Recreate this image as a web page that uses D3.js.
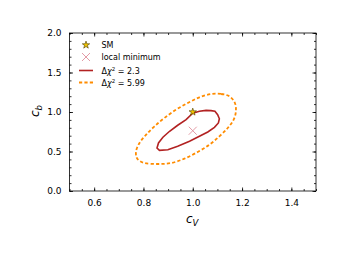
<!DOCTYPE html>
<html>
<head>
<meta charset="utf-8">
<script src="https://cdn.jsdelivr.net/npm/d3@7"></script>
<style>
  body { margin: 0; background: #fff; }
  text { font-family: "DejaVu Sans", sans-serif; }
</style>
</head>
<body>
<div id="chart"></div>
<script>
// data
const smPoint = { cV: 1.0, cb: 1.0 };
const localMin = { cV: 1.0, cb: 0.763 };

const contour23cV = [1.074, 1.090, 1.101, 1.108, 1.104, 1.088, 1.061, 1.027, 0.987, 0.939, 0.899, 0.865, 0.855, 0.861, 0.879, 0.906, 0.939, 0.973, 1.000, 1.027, 1.054];
const contour23cb = [1.017, 1.009, 0.966, 0.915, 0.861, 0.806, 0.747, 0.692, 0.629, 0.566, 0.523, 0.515, 0.544, 0.608, 0.680, 0.756, 0.832, 0.903, 0.985, 1.009, 1.021];

const contour599cV = [1.074, 1.115, 1.149, 1.171, 1.175, 1.166, 1.142, 1.108, 1.068, 1.020, 0.966, 0.912, 0.858, 0.804, 0.775, 0.770, 0.784, 0.811, 0.845, 0.885, 0.932, 0.980, 1.027];
const contour599cb = [1.228, 1.228, 1.198, 1.114, 1.008, 0.903, 0.797, 0.692, 0.587, 0.494, 0.409, 0.354, 0.342, 0.354, 0.409, 0.502, 0.608, 0.713, 0.819, 0.924, 1.029, 1.114, 1.186];

const xTicks = [0.6, 0.8, 1.0, 1.2, 1.4];
const yTicks = [0.0, 0.5, 1.0, 1.5, 2.0];

const W = 345, H = 258;
const margin = { top: 33, right: 29, bottom: 67, left: 69.5 };
const width = W - margin.left - margin.right;
const height = H - margin.top - margin.bottom;

const svg = d3.select("#chart").append("svg")
  .attr("width", W)
  .attr("height", H);

const g = svg.append("g")
  .attr("transform", `translate(${margin.left},${margin.top})`);

const x = d3.scaleLinear().domain([0.5, 1.5]).range([0, width]);
const y = d3.scaleLinear().domain([0, 2]).range([height, 0]);

// ticks, inward on all sides
const xMinor = d3.range(0.5, 1.5001, 0.05);
const yMinor = d3.range(0, 2.0001, 0.1);

function drawAxis(axis, transform, labels) {
  const a = g.append("g").attr("transform", transform).call(axis);
  a.select(".domain").remove();
  a.selectAll("line").attr("stroke", "#000").attr("stroke-width", 0.8);
  if (!labels) a.selectAll("text").remove();
  return a;
}

drawAxis(d3.axisBottom(x).tickValues(xMinor).tickSize(-2).tickFormat(""), `translate(0,${height})`, false);
drawAxis(d3.axisTop(x).tickValues(xMinor).tickSize(-2).tickFormat(""), "translate(0,0)", false);
drawAxis(d3.axisLeft(y).tickValues(yMinor).tickSize(-2).tickFormat(""), "translate(0,0)", false);
drawAxis(d3.axisRight(y).tickValues(yMinor).tickSize(-2).tickFormat(""), `translate(${width},0)`, false);

const xa = drawAxis(d3.axisBottom(x).tickValues(xTicks).tickSize(-3.5).tickPadding(9).tickFormat(d3.format(".1f")), `translate(0,${height})`, true);
drawAxis(d3.axisTop(x).tickValues(xTicks).tickSize(-3.5).tickFormat(""), "translate(0,0)", false);
const ya = drawAxis(d3.axisLeft(y).tickValues(yTicks).tickSize(-3.5).tickPadding(8).tickFormat(d3.format(".1f")), "translate(0,0)", true);
drawAxis(d3.axisRight(y).tickValues(yTicks).tickSize(-3.5).tickFormat(""), `translate(${width},0)`, false);

[xa, ya].forEach(a => a.selectAll("text")
  .attr("font-family", "DejaVu Sans")
  .attr("font-size", 9)
  .attr("fill", "#000"));

g.append("rect")
  .attr("width", width)
  .attr("height", height)
  .attr("fill", "none")
  .attr("stroke", "#000")
  .attr("stroke-width", 0.8);

// contours
const line = d3.line().x(d => x(d[0])).y(d => y(d[1]));

g.append("path")
  .datum(d3.zip(contour599cV, contour599cb))
  .attr("fill", "none")
  .attr("stroke", "#ff8c00")
  .attr("stroke-width", 1.8)
  .attr("stroke-dasharray", "3.2,2.2")
  .attr("d", line.curve(d3.curveCardinalClosed));

g.append("path")
  .datum(d3.zip(contour23cV, contour23cb))
  .attr("fill", "none")
  .attr("stroke", "#b22222")
  .attr("stroke-width", 1.6)
  .attr("d", line.curve(d3.curveLinearClosed));

// markers
const crossPath = "M-4,-4L4,4M-4,4L4,-4";
g.append("path")
  .attr("transform", `translate(${x(localMin.cV)},${y(localMin.cb)})`)
  .attr("d", crossPath)
  .attr("stroke", "#e0909c")
  .attr("stroke-width", 0.9)
  .attr("fill", "none");

const star = d3.symbol().type(d3.symbolStar).size(17);
g.append("path")
  .attr("transform", `translate(${x(smPoint.cV)},${y(smPoint.cb)})`)
  .attr("d", star())
  .attr("fill", "#f2c500")
  .attr("stroke", "#4a3c00")
  .attr("stroke-width", 0.6);

// legend
const legend = svg.append("g");
const lx = 86, tx = 101.5;
const rows = [45, 57, 70.5, 82.5];

legend.append("path")
  .attr("transform", `translate(${lx},${rows[0]})`)
  .attr("d", star())
  .attr("fill", "#f2c500")
  .attr("stroke", "#4a3c00")
  .attr("stroke-width", 0.6);
legend.append("path")
  .attr("transform", `translate(${lx},${rows[1]})`)
  .attr("d", crossPath)
  .attr("stroke", "#e0909c")
  .attr("stroke-width", 0.9)
  .attr("fill", "none");
legend.append("line")
  .attr("x1", lx - 7).attr("x2", lx + 7)
  .attr("y1", rows[2]).attr("y2", rows[2])
  .attr("stroke", "#b22222").attr("stroke-width", 1.6);
legend.append("line")
  .attr("x1", lx - 7).attr("x2", lx + 7)
  .attr("y1", rows[3]).attr("y2", rows[3])
  .attr("stroke", "#ff8c00").attr("stroke-width", 1.8)
  .attr("stroke-dasharray", "3.2,2.2");

legend.append("text").attr("x", tx).attr("y", rows[0] + 3)
  .attr("font-size", 8).text("SM");
legend.append("text").attr("x", tx).attr("y", rows[1] + 3)
  .attr("font-size", 8).text("local minimum");

function chiLabel(row, val) {
  const t = legend.append("text").attr("x", tx).attr("y", row + 3)
    .attr("font-family", "DejaVu Serif").attr("font-size", 8);
  t.append("tspan").text("Δ");
  t.append("tspan").attr("font-style", "italic").text("χ");
  t.append("tspan").attr("dy", -3).attr("font-size", 5.5).text("2");
  t.append("tspan").attr("dy", 3).text(" = " + val);
}
chiLabel(rows[2], "2.3");
chiLabel(rows[3], "5.99");

// axis labels
const xl = svg.append("text")
  .attr("x", 186).attr("y", 223)
  .attr("font-family", "DejaVu Serif").attr("font-size", 12);
xl.append("tspan").attr("font-style", "italic").text("c");
xl.append("tspan").attr("font-style", "italic").attr("dy", 3).attr("font-size", 8.5).text("V");

const yl = svg.append("text")
  .attr("transform", "translate(39,117) rotate(-90)")
  .attr("font-family", "DejaVu Serif").attr("font-size", 12);
yl.append("tspan").attr("font-style", "italic").text("c");
yl.append("tspan").attr("font-style", "italic").attr("dy", 3).attr("font-size", 8.5).text("b");
</script>
</body>
</html>
